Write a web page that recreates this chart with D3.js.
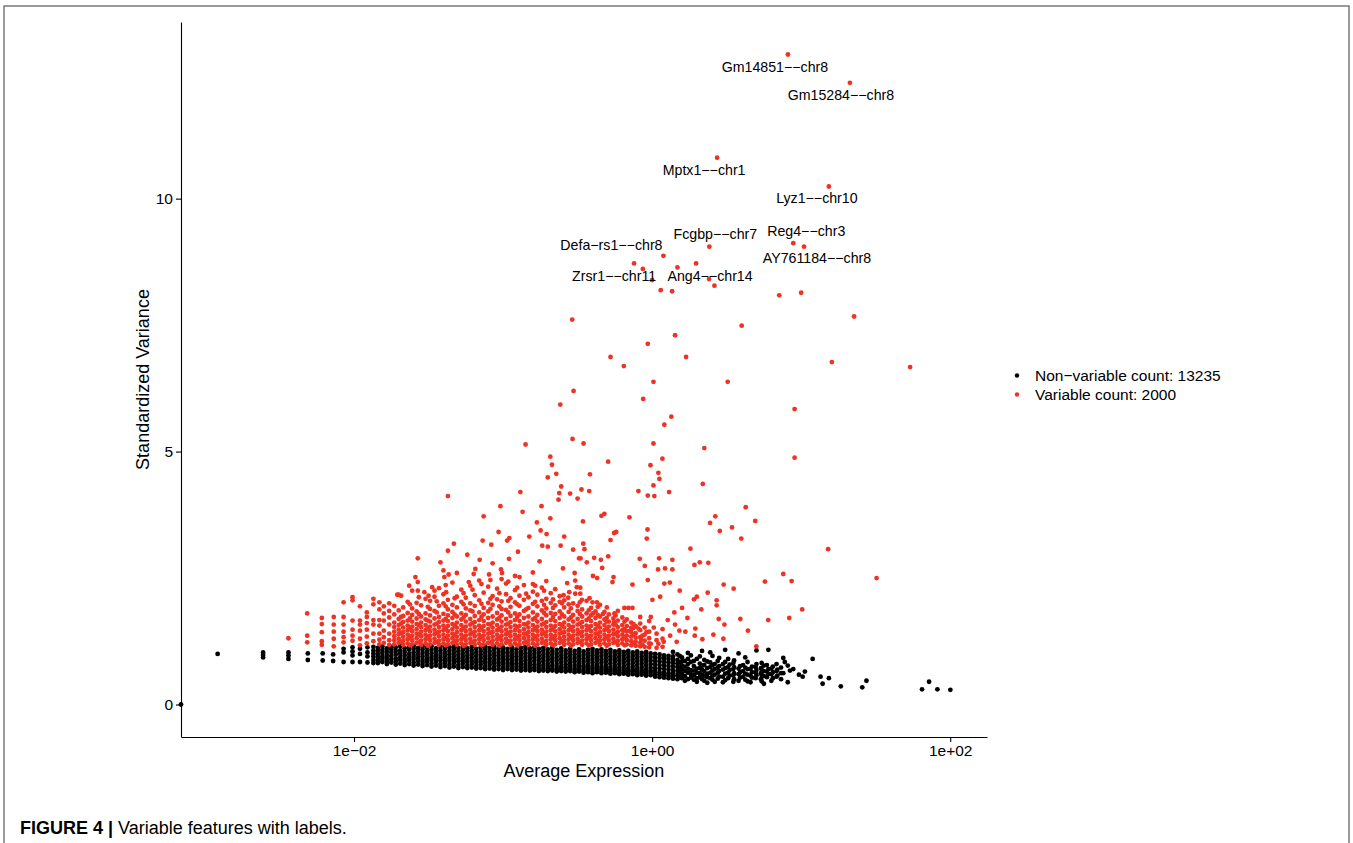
<!DOCTYPE html>
<html><head><meta charset="utf-8">
<script src="https://cdn.jsdelivr.net/npm/d3@7"></script>
<style>
html,body{margin:0;padding:0;background:#fff;}
svg{display:block;}
text{font-family:"Liberation Sans",Arial,Helvetica,sans-serif;}
</style>
</head><body>
<svg id="chart" width="1353" height="843"></svg>
<script>
// ---------------- DATA (log10 average expression, standardized variance) ----------------
const nonVariableCount = 13235;
const variableCount = 2000;
const xTickValues = [1e-2, 1, 1e2];
const xTickLabels = ["1e\u221202", "1e+00", "1e+02"];
const yTickValues = [0, 5, 10];

// gene with zero expression (log10 = -Inf, drawn at panel edge)
const zeroExpression = [[-Infinity, 0]];

// non-variable genes: each row = [log10 avg expression, variances...]
const nonVariableColumns = [
[-2.915, 1.00],
[-2.61, 0.93, 0.98, 1.03],
[-2.44, 0.90, 0.97, 1.03],
[-2.31, 0.88, 1.01],
[-2.21, 0.87, 1.01],
[-2.14, 0.86, 0.99],
[-2.07, 0.84, 1.03, 1.10],
[-2.01, 0.84, 0.97, 1.05, 1.13],
[-1.96, 0.84, 1.00, 1.10],
[-1.91, 0.83, 0.95, 1.03, 1.13],
[-1.87, 0.82, 0.88, 0.95, 1.01, 1.07, 1.14],
[-1.84, 0.82, 0.87, 0.93, 0.99, 1.06, 1.12],
[-1.81, 0.84, 0.90, 0.95, 1.02, 1.08, 1.15],
[-1.78, 0.80, 0.86, 0.92, 0.98, 1.05, 1.11],
[-1.75, 0.83, 0.89, 0.96, 1.03, 1.09, 1.14],
[-1.72, 0.79, 0.85, 0.91, 0.99, 1.06, 1.13],
[-1.69, 0.81, 0.88, 0.94, 1.01, 1.07, 1.15],
[-1.66, 0.78, 0.84, 0.90, 0.97, 1.04, 1.11],
[-1.63, 0.80, 0.87, 0.93, 1.00, 1.08, 1.14],
[-1.60, 0.77, 0.83, 0.90, 0.96, 1.03, 1.10, 1.16],
[-1.57, 0.79, 0.86, 0.92, 0.99, 1.06, 1.12],
[-1.54, 0.76, 0.82, 0.88, 0.95, 1.02, 1.09, 1.15],
[-1.51, 0.78, 0.85, 0.91, 0.98, 1.05, 1.12],
[-1.48, 0.75, 0.81, 0.88, 0.94, 1.01, 1.08, 1.15],
[-1.45, 0.77, 0.84, 0.90, 0.97, 1.04, 1.11],
[-1.42, 0.74, 0.80, 0.87, 0.93, 1.00, 1.07, 1.14],
[-1.39, 0.76, 0.83, 0.89, 0.96, 1.03, 1.10, 1.16],
[-1.36, 0.73, 0.79, 0.86, 0.92, 0.99, 1.06, 1.13],
[-1.33, 0.75, 0.82, 0.88, 0.95, 1.02, 1.09, 1.15],
[-1.30, 0.72, 0.78, 0.85, 0.91, 0.98, 1.05, 1.12],
[-1.27, 0.74, 0.81, 0.87, 0.94, 1.01, 1.08, 1.14],
[-1.24, 0.72, 0.77, 0.84, 0.90, 0.97, 1.04, 1.11],
[-1.21, 0.73, 0.80, 0.86, 0.93, 1.00, 1.07, 1.14],
[-1.18, 0.71, 0.76, 0.83, 0.89, 0.96, 1.03, 1.10],
[-1.15, 0.72, 0.79, 0.85, 0.92, 0.99, 1.06, 1.13],
[-1.12, 0.70, 0.75, 0.82, 0.88, 0.95, 1.02, 1.09, 1.15],
[-1.09, 0.71, 0.78, 0.84, 0.91, 0.98, 1.05, 1.12],
[-1.06, 0.69, 0.74, 0.81, 0.87, 0.94, 1.01, 1.08, 1.14],
[-1.03, 0.70, 0.77, 0.83, 0.90, 0.97, 1.04, 1.11],
[-1.00, 0.68, 0.73, 0.80, 0.86, 0.93, 1.00, 1.07, 1.13],
[-0.97, 0.70, 0.76, 0.82, 0.89, 0.96, 1.03, 1.10],
[-0.94, 0.68, 0.72, 0.79, 0.85, 0.92, 0.99, 1.06, 1.13],
[-0.91, 0.69, 0.75, 0.81, 0.88, 0.95, 1.02, 1.09],
[-0.88, 0.67, 0.72, 0.78, 0.84, 0.91, 0.98, 1.05, 1.12],
[-0.85, 0.68, 0.74, 0.80, 0.87, 0.94, 1.01, 1.08, 1.14],
[-0.82, 0.67, 0.71, 0.77, 0.83, 0.90, 0.97, 1.04, 1.11],
[-0.79, 0.68, 0.73, 0.79, 0.86, 0.93, 1.00, 1.07, 1.13],
[-0.76, 0.66, 0.70, 0.76, 0.82, 0.89, 0.96, 1.03, 1.10],
[-0.73, 0.67, 0.72, 0.78, 0.85, 0.92, 0.99, 1.06, 1.12],
[-0.70, 0.66, 0.70, 0.75, 0.81, 0.88, 0.95, 1.02, 1.09],
[-0.67, 0.67, 0.71, 0.77, 0.84, 0.91, 0.98, 1.05, 1.12],
[-0.64, 0.65, 0.69, 0.74, 0.80, 0.87, 0.94, 1.01, 1.08],
[-0.61, 0.66, 0.71, 0.76, 0.83, 0.90, 0.97, 1.04, 1.11],
[-0.58, 0.65, 0.68, 0.73, 0.79, 0.86, 0.93, 1.00, 1.07],
[-0.55, 0.66, 0.70, 0.76, 0.82, 0.89, 0.96, 1.03, 1.10],
[-0.52, 0.64, 0.68, 0.72, 0.78, 0.85, 0.92, 0.99, 1.06],
[-0.49, 0.65, 0.69, 0.75, 0.81, 0.88, 0.95, 1.02, 1.09],
[-0.46, 0.63, 0.67, 0.72, 0.77, 0.84, 0.91, 0.98, 1.05],
[-0.43, 0.64, 0.69, 0.74, 0.80, 0.87, 0.94, 1.01, 1.08],
[-0.40, 0.62, 0.66, 0.71, 0.76, 0.83, 0.90, 0.97, 1.04, 1.10],
[-0.37, 0.64, 0.68, 0.73, 0.79, 0.86, 0.93, 1.00, 1.07],
[-0.34, 0.62, 0.66, 0.70, 0.75, 0.82, 0.89, 0.96, 1.03, 1.09],
[-0.31, 0.63, 0.67, 0.72, 0.78, 0.85, 0.92, 0.99, 1.06],
[-0.28, 0.61, 0.65, 0.69, 0.74, 0.81, 0.88, 0.95, 1.02, 1.08],
[-0.25, 0.62, 0.67, 0.71, 0.77, 0.84, 0.91, 0.98, 1.05],
[-0.22, 0.60, 0.64, 0.68, 0.73, 0.80, 0.87, 0.94, 1.01, 1.07],
[-0.19, 0.61, 0.66, 0.70, 0.76, 0.83, 0.90, 0.97, 1.04],
[-0.16, 0.59, 0.63, 0.67, 0.72, 0.79, 0.86, 0.93, 1.00, 1.06],
[-0.13, 0.60, 0.65, 0.69, 0.75, 0.82, 0.89, 0.96, 1.03],
[-0.10, 0.58, 0.62, 0.66, 0.71, 0.78, 0.85, 0.92, 0.99, 1.05],
[-0.07, 0.59, 0.64, 0.68, 0.74, 0.81, 0.88, 0.95, 1.02],
[-0.04, 0.57, 0.61, 0.65, 0.70, 0.77, 0.84, 0.91, 0.98, 1.04],
[-0.01, 0.58, 0.63, 0.67, 0.73, 0.80, 0.87, 0.94, 1.01],
[0.02, 0.55, 0.60, 0.66, 0.72, 0.79, 0.86, 0.93, 1.00],
[0.05, 0.54, 0.59, 0.64, 0.71, 0.78, 0.85, 0.92, 0.99],
[0.08, 0.53, 0.58, 0.63, 0.70, 0.77, 0.84, 0.91, 0.97],
[0.11, 0.52, 0.57, 0.62, 0.69, 0.76, 0.83, 0.90, 0.96],
[0.14, 0.51, 0.56, 0.62, 0.68, 0.75, 0.82, 0.89, 0.95, 1.04],
[0.17, 0.50, 0.58, 0.66, 0.74, 0.81, 0.88, 0.99],
[0.185, 0.55, 0.64, 0.73, 0.83, 0.96],
[0.20, 0.52, 0.60, 0.69, 0.77, 0.85, 0.93],
[0.22, 0.47, 0.56, 0.66, 0.75, 0.86],
[0.24, 0.50, 0.63, 0.71, 0.80, 0.90, 1.02],
[0.26, 0.53, 0.60, 0.68, 0.84, 0.97],
[0.28, 0.49, 0.58, 0.67, 0.76, 0.86],
[0.30, 0.45, 0.52, 0.63, 0.71, 0.90],
[0.32, 0.54, 0.62, 0.72, 0.81, 0.95],
[0.335, 0.50, 0.59, 0.69, 0.77, 1.06],
[0.35, 0.47, 0.57, 0.66, 0.78, 0.88],
[0.37, 0.43, 0.54, 0.61, 0.72, 0.85],
[0.39, 0.52, 0.63, 0.74, 0.83, 1.03],
[0.405, 0.49, 0.57, 0.67, 0.78, 0.96],
[0.42, 0.45, 0.59, 0.70, 0.80],
[0.44, 0.51, 0.63, 0.73, 0.86],
[0.45, 0.55, 0.66, 0.76, 0.92],
[0.475, 0.44, 0.55, 0.69, 0.80],
[0.49, 0.48, 0.61, 0.72, 0.84, 1.08],
[0.51, 0.52, 0.63, 0.74, 0.90],
[0.52, 0.57, 0.68, 0.79],
[0.545, 0.45, 0.58, 0.70, 0.82],
[0.55, 0.50, 0.62, 0.74, 0.87],
[0.58, 0.47, 0.60, 0.71, 1.01],
[0.59, 0.53, 0.64, 0.76],
[0.61, 0.55, 0.66, 0.78],
[0.625, 0.49, 0.61, 0.73, 0.93],
[0.64, 0.46, 0.59, 0.70, 0.84],
[0.66, 0.44, 0.57, 0.70],
[0.67, 0.53, 0.64, 0.75],
[0.695, 0.52, 0.63, 0.74],
[0.70, 0.58, 0.68, 0.80, 1.07],
[0.73, 0.50, 0.62, 0.72],
[0.735, 0.46, 0.58, 0.69, 0.82],
[0.75, 0.41, 0.56, 0.66, 0.77],
[0.77, 0.54, 0.65, 0.78],
[0.78, 0.60, 0.70, 1.08],
[0.80, 0.47, 0.60, 0.71],
[0.81, 0.52, 0.64, 0.75],
[0.835, 0.55, 0.66, 0.80],
[0.84, 0.57, 0.69],
[0.865, 0.50, 0.62, 0.73],
[0.88, 0.62, 0.92],
[0.89, 0.84],
[0.91, 0.44, 0.77],
[0.925, 0.67],
[0.947, 0.70],
[0.985, 0.59],
[1.01, 0.55],
[1.025, 0.65],
[1.077, 0.90],
[1.13, 0.55],
[1.144, 0.41],
[1.186, 0.52],
[1.266, 0.36],
[1.41, 0.34],
[1.438, 0.47],
[1.811, 0.30],
[1.858, 0.45],
[1.914, 0.30],
[2.001, 0.29]
];

// variable genes (dense lower cloud): [log10 avg expression, variances...]
const variableColumns = [
[-2.44, 1.31],
[-2.314, 1.80, 1.36, 1.23],
[-2.216, 1.71, 1.59, 1.43, 1.25, 1.18],
[-2.136, 1.73, 1.58, 1.44, 1.30, 1.15],
[-2.07, 2.02, 1.73, 1.58, 1.44, 1.33, 1.23],
[-2.01, 2.12, 2.06, 1.66, 1.48, 1.36, 1.26],
[-1.96, 1.94, 1.66, 1.58, 1.46, 1.30, 1.17],
[-1.914, 1.82, 1.73, 1.61, 1.48, 1.34, 1.21],
[-1.87, 2.09, 1.98, 1.67, 1.58, 1.40, 1.25],
[-1.83, 2.02, 1.88, 1.67, 1.56, 1.40, 1.28, 1.19],
[-1.80, 1.94, 1.80, 1.66, 1.46, 1.33, 1.22],
[-1.764, 2.00, 1.85, 1.72, 1.58, 1.40, 1.27, 1.18],
[-1.73, 1.19, 1.27, 1.35, 1.44, 1.53, 1.62, 1.78, 1.95],
[-1.70, 1.22, 1.30, 1.39, 1.48, 1.57, 1.69, 1.86, 2.17],
[-1.685, 1.24, 1.41, 1.60, 1.73],
[-1.67, 1.18, 1.26, 1.34, 1.43, 1.52, 1.63, 1.75, 1.92],
[-1.64, 1.21, 1.29, 1.38, 1.47, 1.56, 1.66, 1.81, 2.03],
[-1.625, 1.17, 1.32, 1.50, 1.70, 1.98],
[-1.61, 1.19, 1.27, 1.36, 1.45, 1.54, 1.64, 1.77, 1.90, 2.25],
[-1.58, 1.22, 1.31, 1.40, 1.49, 1.59, 1.70, 1.84, 2.01],
[-1.565, 1.23, 1.39, 1.57, 1.79, 2.12],
[-1.55, 1.18, 1.26, 1.35, 1.44, 1.53, 1.62, 1.74, 1.96],
[-1.52, 1.21, 1.29, 1.38, 1.47, 1.57, 1.68, 1.80, 2.09],
[-1.505, 1.16, 1.33, 1.51, 1.66, 1.93],
[-1.49, 1.19, 1.27, 1.36, 1.45, 1.54, 1.64, 1.76, 1.89, 2.05],
[-1.46, 1.22, 1.30, 1.39, 1.48, 1.58, 1.70, 1.85, 2.13],
[-1.445, 1.24, 1.42, 1.60, 1.82, 2.04],
[-1.43, 1.18, 1.26, 1.35, 1.44, 1.53, 1.63, 1.73, 1.95, 2.30],
[-1.40, 1.21, 1.29, 1.38, 1.47, 1.56, 1.66, 1.79, 2.00, 2.18],
[-1.385, 1.17, 1.31, 1.50, 1.69, 1.94, 2.36],
[-1.37, 1.19, 1.27, 1.36, 1.45, 1.55, 1.65, 1.76, 1.88, 2.07],
[-1.34, 1.22, 1.31, 1.40, 1.49, 1.59, 1.71, 1.83, 1.97, 2.41],
[-1.325, 1.25, 1.37, 1.56, 1.78, 2.10],
[-1.31, 1.18, 1.26, 1.34, 1.43, 1.52, 1.62, 1.74, 1.92, 2.13],
[-1.28, 1.21, 1.29, 1.38, 1.47, 1.57, 1.68, 1.80, 2.03, 2.27],
[-1.265, 1.16, 1.33, 1.52, 1.72, 1.98, 2.20],
[-1.25, 1.19, 1.27, 1.36, 1.45, 1.54, 1.64, 1.77, 1.90, 2.11],
[-1.22, 1.22, 1.30, 1.39, 1.48, 1.58, 1.69, 1.86, 2.00, 2.35],
[-1.205, 1.24, 1.41, 1.61, 1.84, 2.27],
[-1.19, 1.18, 1.26, 1.35, 1.44, 1.53, 1.63, 1.75, 1.95, 2.16],
[-1.16, 1.21, 1.29, 1.38, 1.47, 1.56, 1.67, 1.82, 2.06, 2.45],
[-1.145, 1.17, 1.34, 1.51, 1.73, 1.99, 2.38],
[-1.13, 1.19, 1.27, 1.36, 1.45, 1.55, 1.65, 1.78, 1.91, 2.21],
[-1.10, 1.22, 1.31, 1.40, 1.49, 1.59, 1.71, 1.84, 2.01, 2.33],
[-1.085, 1.23, 1.42, 1.58, 1.89, 2.09],
[-1.07, 1.18, 1.26, 1.34, 1.43, 1.52, 1.62, 1.74, 1.97, 2.14],
[-1.04, 1.21, 1.29, 1.38, 1.47, 1.57, 1.68, 1.81, 2.08, 2.29],
[-1.025, 1.16, 1.32, 1.50, 1.71, 1.94, 2.20],
[-1.01, 1.19, 1.27, 1.36, 1.45, 1.54, 1.64, 1.76, 1.89, 2.04, 2.48],
[-0.98, 1.22, 1.30, 1.39, 1.48, 1.58, 1.69, 1.87, 2.18, 2.39],
[-0.965, 1.25, 1.41, 1.60, 1.82, 2.05, 2.43],
[-0.95, 1.18, 1.26, 1.35, 1.44, 1.53, 1.63, 1.75, 1.93, 2.10],
[-0.92, 1.21, 1.29, 1.38, 1.47, 1.56, 1.67, 1.80, 2.02, 2.26],
[-0.905, 1.17, 1.33, 1.53, 1.73, 1.98, 2.31],
[-0.89, 1.19, 1.27, 1.36, 1.45, 1.55, 1.65, 1.78, 1.95, 2.15, 2.52],
[-0.86, 1.22, 1.31, 1.40, 1.49, 1.59, 1.71, 1.85, 2.07, 2.36],
[-0.845, 1.24, 1.40, 1.58, 1.88, 2.19],
[-0.83, 1.18, 1.26, 1.34, 1.43, 1.52, 1.62, 1.74, 1.91, 2.12],
[-0.80, 1.21, 1.29, 1.38, 1.47, 1.57, 1.68, 1.82, 1.99, 2.23, 2.61],
[-0.785, 1.16, 1.34, 1.51, 1.71, 2.03, 2.35],
[-0.77, 1.19, 1.27, 1.36, 1.45, 1.54, 1.64, 1.77, 1.94, 2.17],
[-0.74, 1.22, 1.30, 1.39, 1.48, 1.58, 1.69, 1.86, 2.05, 2.31],
[-0.725, 1.23, 1.41, 1.60, 1.81, 1.97, 2.25],
[-0.71, 1.18, 1.26, 1.35, 1.44, 1.53, 1.63, 1.76, 1.90, 2.09, 2.44],
[-0.68, 1.21, 1.29, 1.38, 1.47, 1.56, 1.67, 1.81, 2.01, 2.20],
[-0.665, 1.17, 1.32, 1.50, 1.73, 1.91, 2.08],
[-0.65, 1.19, 1.27, 1.36, 1.45, 1.55, 1.65, 1.79, 1.96, 2.28],
[-0.62, 1.22, 1.31, 1.40, 1.49, 1.59, 1.71, 1.84, 2.03, 2.14],
[-0.605, 1.25, 1.42, 1.57, 1.78, 2.00],
[-0.59, 1.18, 1.26, 1.34, 1.43, 1.52, 1.62, 1.74, 1.92, 2.06],
[-0.56, 1.21, 1.29, 1.38, 1.47, 1.57, 1.68, 1.83, 1.98],
[-0.545, 1.16, 1.33, 1.52, 1.72, 1.90],
[-0.53, 1.19, 1.27, 1.36, 1.45, 1.54, 1.64, 1.77, 2.00],
[-0.50, 1.22, 1.30, 1.39, 1.48, 1.58, 1.69, 1.85, 1.95],
[-0.485, 1.24, 1.41, 1.60, 1.79, 2.02],
[-0.47, 1.18, 1.26, 1.35, 1.44, 1.53, 1.63, 1.74, 1.88],
[-0.44, 1.21, 1.29, 1.38, 1.47, 1.56, 1.67, 1.80, 2.05],
[-0.425, 1.17, 1.32, 1.51, 1.70, 1.86],
[-0.41, 1.19, 1.27, 1.36, 1.45, 1.55, 1.65, 1.76, 1.91],
[-0.38, 1.22, 1.31, 1.40, 1.49, 1.59, 1.71, 1.84],
[-0.365, 1.25, 1.40, 1.56, 1.77, 1.93],
[-0.35, 1.18, 1.26, 1.34, 1.43, 1.52, 1.62, 1.74, 1.97],
[-0.32, 1.21, 1.29, 1.38, 1.47, 1.57, 1.68, 1.83],
[-0.305, 1.16, 1.34, 1.50, 1.71],
[-0.29, 1.19, 1.27, 1.36, 1.45, 1.54, 1.64, 1.78],
[-0.26, 1.22, 1.30, 1.39, 1.48, 1.58, 1.70],
[-0.245, 1.24, 1.40, 1.58, 1.76],
[-0.23, 1.18, 1.26, 1.35, 1.44, 1.53, 1.66, 1.85],
[-0.20, 1.21, 1.29, 1.38, 1.47, 1.57, 1.72],
[-0.185, 1.17, 1.33, 1.49, 1.64],
[-0.17, 1.19, 1.27, 1.36, 1.45, 1.55, 1.68],
[-0.14, 1.17, 1.25, 1.34, 1.43, 1.52, 1.62],
[-0.125, 1.22, 1.38, 1.51],
[-0.11, 1.16, 1.24, 1.32, 1.41, 1.55],
[-0.08, 1.15, 1.22, 1.33, 1.47, 1.60],
[-0.065, 1.18, 1.36],
[-0.05, 1.14, 1.26, 1.38, 1.52],
[-0.02, 1.13, 1.21, 1.31, 1.44, 1.65],
[0.03, 1.12, 1.27, 1.40],
[0.07, 1.14, 1.30, 1.49]
];

// variable genes (scattered, read individually): [log10 avg expression, variance]
const variableScattered = [
[-1.71,2.17],[-1.684,2.15],[-1.63,2.35],[-1.588,2.52],[-1.572,2.89],[-1.572,2.42],[-1.572,2.25],
[-1.528,2.22],[-1.476,2.32],[-1.46,2.25],[-1.50,2.15],[-1.42,2.81],[-1.40,2.65],[-1.394,2.52],
[-1.365,2.57],[-1.382,2.22],[-1.37,4.12],[-1.37,3.04],[-1.33,3.18],[-1.31,2.60],[-1.24,2.96],
[-1.23,2.42],[-1.197,2.58],[-1.186,2.68],[-1.157,2.86],[-1.13,3.72],[-1.137,3.24],[-1.094,2.57],
[-1.085,2.46],[-1.079,3.16],[-1.07,2.79],[-1.03,3.41],[-1.018,3.92],[-1.014,2.67],[-1.007,2.60],
[-0.973,3.24],[-0.958,3.29],[-0.96,2.88],[-0.92,2.54],[-0.90,3.02],[-0.884,4.20],[-0.869,3.81],
[-0.849,5.14],[-0.824,3.32],[-0.80,2.38],[-0.773,3.60],[-0.755,2.83],[-0.748,3.44],[-0.742,3.92],
[-0.737,3.14],[-0.708,3.37],[-0.70,3.12],[-0.70,4.49],[-0.683,4.90],[-0.672,4.74],[-0.683,3.68],
[-0.643,4.56],[-0.628,4.05],[-0.623,4.18],[-0.61,4.31],[-0.614,3.14],[-0.598,2.69],[-0.59,3.32],
[-0.57,2.40],[-0.55,4.17],[-0.534,5.25],[-0.53,3.06],[-0.52,2.60],[-0.50,4.07],[-0.49,2.89],
[-0.536,7.61],[0.601,7.49],[1.355,7.67],[0.154,7.30],[-0.029,7.13],[-0.279,6.87],[0.228,6.87],
[-0.19,6.69],[1.206,6.77],[1.731,6.67],[0.009,6.38],[0.507,6.38],[-0.527,6.20],[-0.616,5.93],[-0.06,6.04],
[0.956,5.84],[0.129,5.69],[0.082,5.53],[-0.46,5.16],[0.009,5.16],[0.35,5.07],[0.956,4.88],
[-0.295,4.80],[0.069,4.86],[-0.011,4.73],[-0.417,4.55],[0.042,4.58],[0.049,4.46],[0.009,4.33],
[0.015,4.12],[-0.029,4.13],[0.34,4.36],[-0.474,4.25],[-0.422,4.22],[-0.092,4.22],[0.114,4.20],
[0.628,3.90],[0.692,3.63],[0.424,3.72],[0.389,3.59],[0.454,3.43],[0.536,3.50],[0.598,3.28],
[-0.34,3.73],[-0.32,3.77],[-0.464,3.62],[-0.152,3.70],[-0.279,3.25],[-0.255,3.39],[-0.241,3.41],
[-0.031,3.46],[-0.036,3.28],[0.257,3.08],[1.181,3.07],[1.506,2.50],[0.284,2.76],[0.32,2.81],
[0.377,2.80],[-0.083,2.88],[-0.049,2.74],[0.047,2.89],[0.04,2.67],[0.087,2.69],[0.136,2.86],
[0.136,2.67],[-0.029,2.46],[-0.132,2.37],[0.082,2.39],[0.119,2.41],[0.185,2.25],[0.48,2.37],
[0.547,2.29],[0.373,2.21],[0.757,2.43],[0.88,2.58],[0.936,2.44],[1.007,1.88],[0.92,1.71],
[0.779,1.67],[0.592,1.69],[0.643,1.46],[0.699,1.15],[0.447,1.69],[0.485,1.58],[0.433,1.96],
[0.433,2.06],[0.33,1.88],[0.281,2.08],[0.30,2.13],[0.237,1.71],[0.201,1.91],[0.149,1.82],
[0.105,1.67],[0.154,1.58],[0.29,1.50],[0.286,1.36],[0.337,1.29],[0.411,1.38],[0.478,1.30],
[0.183,1.46],[0.223,1.44],[0.165,1.24],[0.121,1.36],[0.078,1.24],[0.042,1.20],[-0.074,1.28],
[-0.009,1.20],[0.011,1.52],[-0.038,1.43],[-0.08,1.73],[-0.009,1.73],[0.002,2.07],[0.054,2.13],
[-0.132,1.91],[-0.186,1.91],[-0.159,1.91],[-0.253,1.80],[-0.255,1.63],[-0.125,1.59],[-0.147,1.46],
[-0.192,1.46],[-0.092,1.50],[-0.306,1.64],[-0.304,1.92],[-0.33,1.79],[-0.37,2.02],[-0.40,2.02],
[-0.397,1.80],[-0.266,2.42],[-0.259,2.52],[-0.335,2.70],[-0.295,2.93],[-0.344,2.86],[-0.389,2.90],
[-0.438,2.81],[-0.48,2.89],[-0.454,3.07],[-0.462,3.18],[-0.397,2.54],[-0.369,2.50],[-0.516,2.45],
[-0.505,2.32],[-0.556,2.22],[-0.516,2.19],[-0.594,2.16],[-0.563,2.11],[-0.482,2.19],[-0.471,2.07],
[-0.42,2.10],[-0.482,2.31],
[-0.121,8.72],[-0.062,8.61],[0.17,8.64],[0.295,8.72],[0.058,8.19],[0.134,8.17],[0.418,8.28],
[0.853,8.09],[1.0,8.14]
];

// labelled variable genes
const labelGenes = ["Gm14851\u2212\u2212chr8","Gm15284\u2212\u2212chr8","Mptx1\u2212\u2212chr1","Lyz1\u2212\u2212chr10",
  "Fcgbp\u2212\u2212chr7","Reg4\u2212\u2212chr3","AY761184\u2212\u2212chr8","Defa\u2212rs1\u2212\u2212chr8",
  "Zrsr1\u2212\u2212chr11","Ang4\u2212\u2212chr14"];
const labelLogExpr = [0.911, 1.327, 0.436, 1.186, 0.384, 0.947, 1.019, 0.076, 0.0, 0.382];
const labelVariance = [12.85, 12.29, 10.81, 10.24, 9.05, 9.12, 9.05, 8.87, 8.39, 8.41];

// ---------------- LAYOUT ----------------
// label text offsets (px) from their point (repel placement)
const labelOffsets = [[-13,17],[-9,17],[-13,17],[-12,16],[6,-8],[13,-7],[13,16],[-52,-6],[-38,1],[1,2]];

const panel = {left:181, right:987, top:22, bottom:737};
const colNon = "#000000", colVar = "#ee3224";
const ptR = 2.4;

function flattenCols(cols){ const out=[]; cols.forEach(c=>{ for(let i=1;i<c.length;i++) out.push([c[0], c[i]]); }); return out; }

const nonPts = zeroExpression.concat(flattenCols(nonVariableColumns)).map(d=>({x:Math.pow(10,d[0]), y:d[1]}));
const labelPts = labelGenes.map((g,i)=>({x:Math.pow(10,labelLogExpr[i]), y:labelVariance[i], name:g, off:labelOffsets[i]}));
const varPts = flattenCols(variableColumns).concat(variableScattered).map(d=>({x:Math.pow(10,d[0]), y:d[1]})).concat(labelPts);

const all = nonPts.concat(varPts);
const finiteX = all.filter(d=>d.x>0).map(d=>d.x);
const lxMin = Math.log10(d3.min(finiteX)), lxMax = Math.log10(d3.max(finiteX));
const lxPad = (lxMax-lxMin)*0.05;
const yMin = d3.min(all,d=>d.y), yMax = d3.max(all,d=>d.y), yPad=(yMax-yMin)*0.05;

const x = d3.scaleLog().domain([Math.pow(10,lxMin-lxPad), Math.pow(10,lxMax+lxPad)]).range([panel.left, panel.right]);
const y = d3.scaleLinear().domain([yMin-yPad, yMax+yPad]).range([panel.bottom, panel.top]);
const px = d=> d.x>0 ? x(d.x) : panel.left;

const svg = d3.select("#chart");

// figure frame
svg.append("path").attr("d",`M4,843 V6 H1349 V843`).attr("fill","none").attr("stroke","#7a7a7a").attr("stroke-width",1.5);

// points
const gp = svg.append("g");
gp.selectAll("circle.non").data(nonPts).join("circle").attr("class","non")
  .attr("cx",px).attr("cy",d=>y(d.y)).attr("r",ptR).attr("fill",colNon);
gp.selectAll("circle.var").data(varPts).join("circle").attr("class","var")
  .attr("cx",px).attr("cy",d=>y(d.y)).attr("r",ptR).attr("fill",colVar);

// axes
const xAxis = svg.append("g").attr("transform",`translate(0,${panel.bottom})`)
  .call(d3.axisBottom(x).tickValues(xTickValues).tickFormat((d,i)=>xTickLabels[i]).tickSizeInner(5).tickSizeOuter(0).tickPadding(3));
const yAxis = svg.append("g").attr("transform",`translate(${panel.left},0)`)
  .call(d3.axisLeft(y).tickValues(yTickValues).tickFormat(d3.format("d")).tickSizeInner(5).tickSizeOuter(0).tickPadding(3));
[xAxis,yAxis].forEach(a=>{
  a.select(".domain").attr("stroke","#000").attr("stroke-width",1.1);
  a.selectAll(".tick line").attr("stroke","#000").attr("stroke-width",1.1);
  a.selectAll(".tick text").attr("fill","#000").style("font-size","15.5px").style("font-family","'Liberation Sans',Arial,sans-serif");
});

// axis titles
svg.append("text").attr("x",(panel.left+panel.right)/2).attr("y",777).attr("text-anchor","middle")
  .style("font-size","18px").text("Average Expression");
svg.append("text").attr("transform",`translate(149,${(panel.top+panel.bottom)/2}) rotate(-90)`).attr("text-anchor","middle")
  .style("font-size","18px").text("Standardized Variance");

// gene labels
svg.append("g").selectAll("text").data(labelPts).join("text")
  .attr("x",d=>px(d)+d.off[0]).attr("y",d=>y(d.y)+d.off[1]).attr("text-anchor","middle")
  .style("font-size","14.2px").attr("fill","#000").text(d=>d.name);

// legend
const legend = [
  {label:`Non\u2212variable count: ${nonVariableCount}`, color:colNon},
  {label:`Variable count: ${variableCount}`, color:colVar}
];
const lg = svg.append("g").attr("transform","translate(1017,375.5)");
legend.forEach((l,i)=>{
  lg.append("circle").attr("cx",0).attr("cy",i*19).attr("r",2.2).attr("fill",l.color);
  lg.append("text").attr("x",18).attr("y",i*19+5.5).style("font-size","15.5px").text(l.label);
});

// caption
const cap = svg.append("text").attr("x",20).attr("y",834).style("font-size","18px");
cap.append("tspan").style("font-weight","bold").text("FIGURE 4 |");
cap.append("tspan").text(" Variable features with labels.");
</script>
</body></html>
